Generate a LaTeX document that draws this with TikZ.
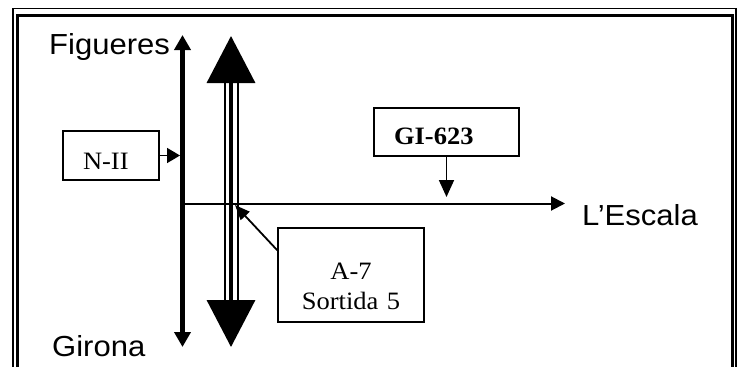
\documentclass[tikz,border=0pt]{standalone}
\usepackage{fontspec}
\setmainfont{Liberation Serif}[FakeStretch=1.06]
\newfontfamily\arialfont{Liberation Sans}[FakeStretch=1.07]
\usetikzlibrary{arrows.meta}

\begin{document}
\begin{tikzpicture}[x=1pt,y=-1pt,
		caixa/.style={draw,line width=1.5pt,inner xsep=20pt,inner ysep=0pt,font=\fontsize{25}{30}\selectfont},
		poble/.style={inner sep=0pt,anchor=base west,font=\arialfont\fontsize{29}{34}\selectfont}]
		\useasboundingbox (0,0) rectangle (737,367);
		\clip (0,0) rectangle (737,367);
		\draw[line width=1.5pt] (12.8,8.3) rectangle (736,420);
		\draw[line width=3pt] (17.2,15) rectangle (732,420);
		\node[poble](fig) at (49,54.3) {Figueres};
		\node[poble](gir) at (52,356) {Girona};
		\node[poble](esc) at (582,225) {L’Escala};
		\node[caixa,align=left,text width=56pt,text height=38pt,text depth=11pt](nii) at (111,155.5) {N-II};
		\node[caixa,align=left,text width=105pt,text height=36pt,text depth=12pt](gi) at (446.5,132) {\textbf{GI-623}};
		\node[caixa,align=center,text width=106pt,text depth=8pt,minimum height=94pt](a) at (351,275) {A-7\\Sortida 5};
		\coordinate (nnord) at (182.5,35);
		\coordinate (nsud) at (182.5,347);
		\coordinate (anord) at (231,36);
		\coordinate (asud) at (231,347);
		\coordinate (cruilla) at (182.5,203.5);
		\coordinate (escala) at (565,203.5);
		\coordinate (sortida) at (235,205);
		\draw[line width=5.5pt,{Triangle[length=15pt,width=16pt]}-{Triangle[length=15pt,width=16pt]}] (nsud)--(nnord);
		\draw[line width=3.5pt,{Triangle[length=47pt,width=48pt]}-{Triangle[length=47pt,width=48pt]}] (asud)--(anord);
		\draw[line width=2pt] ([xshift=-6.5pt,yshift=-47pt]anord)--([xshift=-6.5pt,yshift=47pt]asud) ([xshift=6.5pt,yshift=-47pt]anord)--([xshift=6.5pt,yshift=47pt]asud);
		\draw[line width=2pt,-{Triangle[length=14pt,width=14pt]}] (cruilla)--(escala);
		\draw[line width=1.8pt,-{Triangle[length=17pt,width=15pt]},shorten >=6.5pt] (gi.south)--(gi.south |- escala);
		\draw[line width=1.8pt,-{Triangle[length=13pt,width=15pt]},shorten >=2.5pt] (nii.east)--(nii.east -| nnord);
		\draw[line width=1.8pt,-{Triangle[length=15pt,width=12pt]}] ([yshift=-23pt]a.north west)--(sortida);
	\end{tikzpicture}
\end{document}
